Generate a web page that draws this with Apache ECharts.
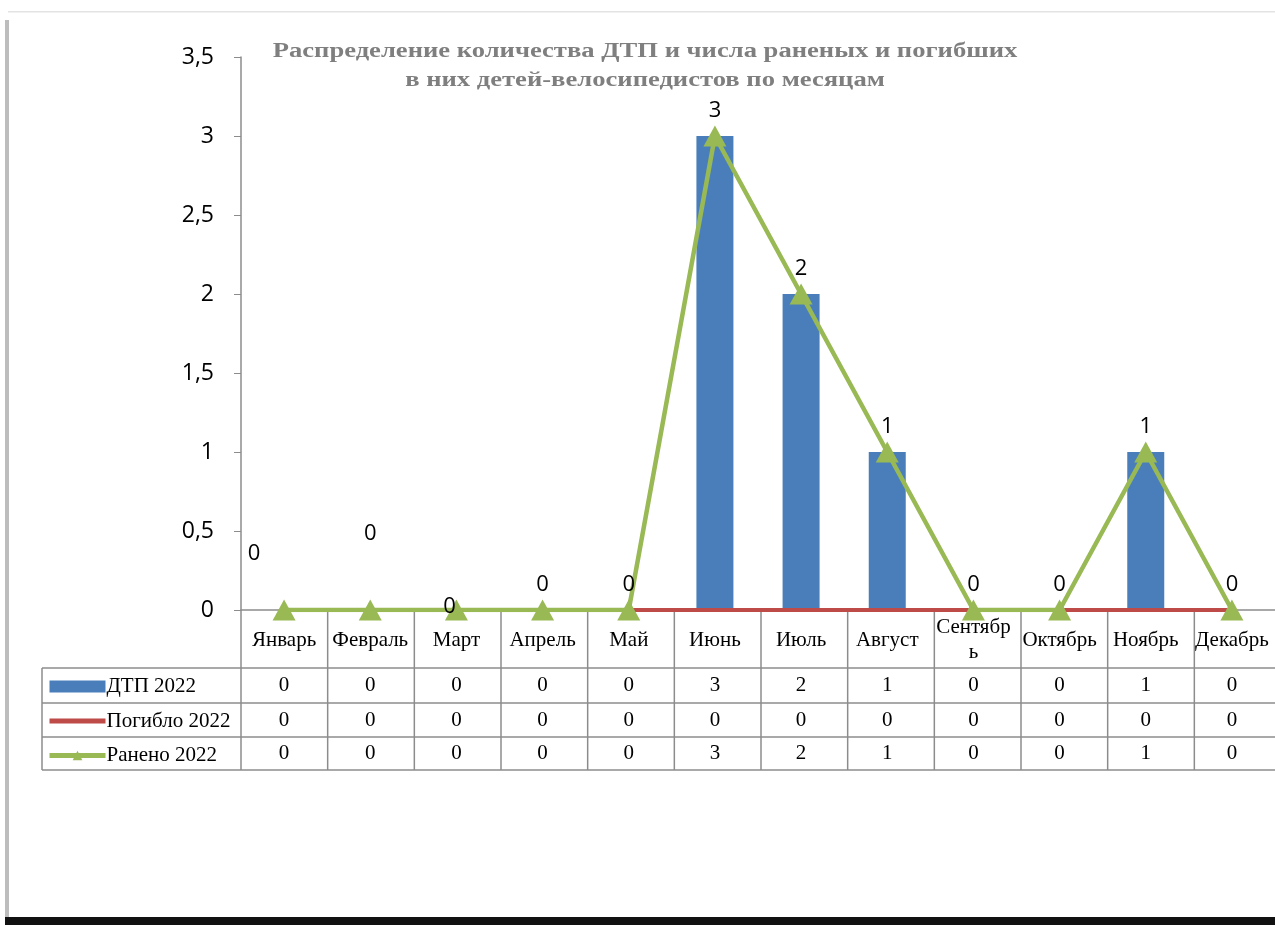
<!DOCTYPE html>
<html>
<head>
<meta charset="utf-8">
<title>ДТП с детьми-велосипедистами</title>
<script src="https://cdn.jsdelivr.net/npm/echarts@6/dist/echarts.min.js"></script>
<style>
  html, body { margin: 0; padding: 0; background: #fff; }
  #chart { width: 1275px; height: 925px; }
</style>
</head>
<body>
<div id="chart"></div>
<script>
// данные
const months = ['Январь', 'Февраль', 'Март', 'Апрель', 'Май', 'Июнь', 'Июль', 'Август', 'Сентябрь', 'Октябрь', 'Ноябрь', 'Декабрь'];
const dtp2022 = [0, 0, 0, 0, 0, 3, 2, 1, 0, 0, 1, 0];
const pogiblo2022 = [0, 0, 0, 0, 0, 0, 0, 0, 0, 0, 0, 0];
const raneno2022 = [0, 0, 0, 0, 0, 3, 2, 1, 0, 0, 1, 0];
const seriesNames = ['ДТП 2022', 'Погибло 2022', 'Ранено 2022'];
const yTicks = [0, 0.5, 1, 1.5, 2, 2.5, 3, 3.5];
const titleText = 'Распределение количества ДТП и числа раненых и погибших\nв них детей-велосипедистов по месяцам';

// сдвиги подписей (как в исходной диаграмме Excel)
const labelNudge = [[-30, -31], [0, -51], [-7, 22], [0, 0], [0, 0], [0, 0], [0, 0], [0, 0], [0, 0], [0, 0], [0, 0], [0, 0]];

const serif = 'Liberation Serif, Times New Roman, serif';
const sans = 'Open Sans, Noto Sans, sans-serif';
const grid = { left: 241, top: 57, width: 1040, height: 553 };

const chart = echarts.init(document.getElementById('chart'));

chart.setOption({
  animation: false,
  backgroundColor: '#fff',
  legend: {
    orient: 'vertical',
    left: 47,
    top: 676,
    padding: 0,
    itemWidth: 56,
    itemHeight: 12,
    itemGap: 13.5,
    data: [
      { name: seriesNames[0], icon: 'rect' },
      { name: seriesNames[1], itemStyle: { opacity: 0 }, lineStyle: { width: 5 } },
      { name: seriesNames[2], lineStyle: { width: 5 } },
    ],
    textStyle: { fontFamily: serif, fontSize: 21, lineHeight: 21, color: '#000', padding: [0, 0, 0, -4] },
  },
  grid: grid,
  xAxis: {
    type: 'category',
    data: months,
    axisLine: { lineStyle: { color: '#8c8c8c', width: 1.5 } },
    axisTick: { show: false },
    axisLabel: {
      margin: 30,
      verticalAlign: 'middle',
      fontFamily: serif,
      fontSize: 21,
      lineHeight: 25,
      color: '#000',
      interval: 0,
      // Excel переносит длинное название
      formatter: (v) => (v.length > 7 ? v.slice(0, 7) + '\n' + v.slice(7) : v),
    },
  },
  yAxis: {
    type: 'value',
    min: yTicks[0],
    max: yTicks[yTicks.length - 1],
    interval: 0.5,
    splitLine: { show: false },
    axisLine: { show: true, lineStyle: { color: '#8c8c8c', width: 1.5 } },
    axisTick: { show: true, length: 7, lineStyle: { color: '#8c8c8c' } },
    axisLabel: {
      margin: 27,
      fontFamily: sans,
      fontSize: 23,
      color: '#000',
      formatter: (v) => String(v).replace('.', ','),
    },
  },
  series: [
    {
      name: seriesNames[0],
      type: 'bar',
      data: dtp2022,
      barWidth: 37,
      itemStyle: { color: '#4a7ebb' },
      z: 1,
    },
    {
      name: seriesNames[1],
      type: 'line',
      data: pogiblo2022,
      showSymbol: false,
      symbol: 'none',
      lineStyle: { color: '#be4b48', width: 4 },
      itemStyle: { color: '#be4b48' },
      z: 2,
    },
    {
      name: seriesNames[2],
      type: 'line',
      data: raneno2022.map((v, i) => ({
        value: v,
        label: { offset: labelNudge[i] },
      })),
      symbol: 'triangle',
      symbolSize: [23, 21],
      lineStyle: { color: '#98b954', width: 4.5 },
      itemStyle: { color: '#98b954' },
      label: {
        show: true,
        position: 'top',
        distance: 4,
        fontFamily: sans,
        fontSize: 22,
        color: '#000',
      },
      z: 3,
    },
  ],
});

// заголовок и таблица данных под осью
function drawExtras() {
  const lineColor = '#8c8c8c';
  const rowTops = [610, 668, 703, 737, 770];
  const tableLeft = 42;
  const catW = grid.width / months.length;
  const right = grid.left + grid.width;
  const els = [];
  // заголовок (в оригинале растянут по горизонтали)
  els.push({
    type: 'text',
    x: 645,
    y: 37,
    scaleX: 1.33,
    originX: 0,
    silent: true,
    style: {
      text: titleText,
      align: 'center',
      verticalAlign: 'top',
      fontFamily: serif,
      fontWeight: 'bold',
      fontSize: 20,
      lineHeight: 29,
      fill: '#7f7f7f',
    },
  });
  const line = (x1, y1, x2, y2) => els.push({
    type: 'line',
    shape: { x1, y1, x2, y2 },
    style: { stroke: lineColor, lineWidth: 1.5 },
    silent: true,
  });
  for (let r = 1; r < rowTops.length; r++) line(tableLeft, rowTops[r], right, rowTops[r]);
  line(tableLeft, rowTops[1], tableLeft, rowTops[4]);
  for (let c = 0; c <= months.length; c++) {
    const x = grid.left + c * catW;
    line(x, rowTops[0], x, rowTops[4]);
  }
  const rows = [dtp2022, pogiblo2022, raneno2022];
  rows.forEach((vals, r) => {
    const cy = (rowTops[r + 1] + rowTops[r + 2]) / 2;
    vals.forEach((v, i) => {
      const cx = chart.convertToPixel({ xAxisIndex: 0 }, months[i]);
      els.push({
        type: 'text',
        x: cx,
        y: cy,
        silent: true,
        style: {
          text: String(v),
          align: 'center',
          verticalAlign: 'middle',
          fontFamily: serif,
          fontSize: 21,
          fill: '#000',
        },
      });
    });
  });
  // рамка области диаграммы
  els.push({ type: 'rect', shape: { x: 8, y: 11, width: 1275, height: 1.5 }, style: { fill: '#e3e3e3' }, silent: true });
  els.push({ type: 'rect', shape: { x: 5, y: 20, width: 4, height: 900 }, style: { fill: '#bdbdbd' }, silent: true });
  els.push({ type: 'rect', shape: { x: 5, y: 917, width: 1275, height: 8 }, style: { fill: '#111' }, silent: true });
  chart.setOption({ graphic: { elements: els } });
}
drawExtras();
</script>
</body>
</html>
